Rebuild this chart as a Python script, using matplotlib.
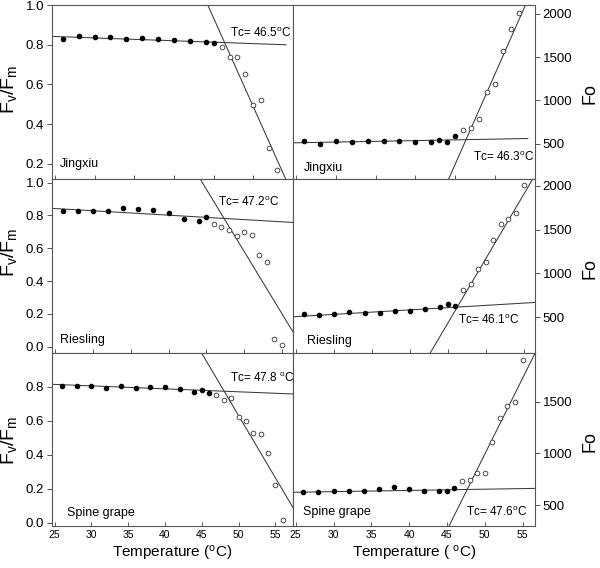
import numpy as np
import matplotlib
matplotlib.use("Agg")
import matplotlib.pyplot as plt

plt.rcParams['font.family'] = ['Liberation Sans', 'DejaVu Sans']
plt.rcParams['mathtext.fontset'] = 'custom'
plt.rcParams['mathtext.rm'] = 'Liberation Sans'
plt.rcParams['mathtext.it'] = 'Liberation Sans:italic'

# ---------------- data ----------------
cultivars = ["Jingxiu", "Riesling", "Spine grape"]

# Fv/Fm
jx_fv_T_fill = [26, 28, 30, 32, 34, 36, 38, 40, 42, 44, 45]
jx_fv_fill = [0.830, 0.842, 0.839, 0.839, 0.829, 0.832, 0.827, 0.825, 0.820, 0.812, 0.807]
jx_fv_T_open = [46, 47, 48, 49, 50, 51, 52, 53]
jx_fv_open = [0.791, 0.739, 0.736, 0.651, 0.495, 0.520, 0.278, 0.168]

rs_fv_T_fill = [26, 28, 30, 32, 34, 36, 38, 40, 42, 44, 45]
rs_fv_fill = [0.824, 0.829, 0.824, 0.827, 0.843, 0.837, 0.835, 0.814, 0.780, 0.767, 0.788]
rs_fv_T_open = [46, 47, 48, 49, 50, 51, 52, 53, 54, 55]
rs_fv_open = [0.745, 0.731, 0.712, 0.673, 0.698, 0.678, 0.561, 0.518, 0.045, 0.012]

sg_fv_T_fill = [26, 28, 30, 32, 34, 36, 38, 40, 42, 44, 45, 46]
sg_fv_fill = [0.806, 0.802, 0.806, 0.792, 0.802, 0.790, 0.798, 0.798, 0.788, 0.767, 0.782, 0.761]
sg_fv_T_open = [47, 48, 49, 50, 51, 52, 53, 54, 55, 56]
sg_fv_open = [0.749, 0.723, 0.733, 0.619, 0.598, 0.527, 0.519, 0.409, 0.224, 0.018]

# Fo
jx_fo_T_fill = [26, 28, 30, 32, 34, 36, 38, 40, 42, 43, 44, 45]
jx_fo_fill = [531, 500, 527, 519, 534, 531, 527, 519, 516, 546, 523, 589]
jx_fo_T_open = [46, 47, 48, 49, 50, 51, 52, 53]
jx_fo_open = [654, 681, 788, 1097, 1189, 1566, 1820, 2004]

rs_fo_T_fill = [26, 28, 30, 32, 34, 36, 38, 40, 42, 44, 45, 46]
rs_fo_fill = [534, 519, 538, 561, 542, 542, 565, 565, 588, 615, 645, 622]
rs_fo_T_open = [47, 48, 49, 50, 51, 52, 53, 54, 55]
rs_fo_open = [814, 879, 1055, 1135, 1380, 1568, 1621, 1694, 2008]

sg_fo_T_fill = [26, 28, 30, 32, 34, 36, 38, 40, 42, 44, 45, 46]
sg_fo_fill = [626, 629, 632, 635, 635, 655, 674, 652, 635, 632, 632, 665]
sg_fo_T_open = [47, 48, 49, 50, 51, 52, 53, 54, 55]
sg_fo_open = [735, 742, 810, 810, 1110, 1345, 1461, 1500, 1903]

# fitted regression lines: (slope, intercept)
fv_flat = [(-0.00143, 0.8772), (-0.0027, 0.9094), (-0.00174, 0.8569)]
fv_steep = [(-0.0892, 4.948), (-0.07599, 4.3792), (-0.07325, 4.2927)]
fo_flat = [(1.698, 469.1), (5.133, 378.0), (1.187, 593.8)]
fo_steep = [(208.3, -9107.0), (146.8, -6172.7), (146.97, -6357.8)]

fv_tc = ["46.5", "47.2", "47.8 "]
fo_tc = ["46.3", "46.1", "47.6"]

# ---------------- layout ----------------
fig = plt.figure(figsize=(6.0, 5.68), dpi=100)

W, H = 600.0, 568.0
cols = [(52, 293), (293, 535)]
rows = [(5, 178.5), (178.5, 352.7), (352.7, 526)]

fv_xlims = [(24.63, 54.1), (24.6, 56.45), (24.65, 57.4)]
fo_xlims = [(24.65, 54.1), (24.55, 56.5), (24.64, 56.65)]
fv_ylims = [(0.127, 1.0), (-0.037, 1.025), (-0.02, 1.0)]
fo_ylims = [(100, 2100), (94, 2084), (297, 1974)]
fv_yticks = [[0.2, 0.4, 0.6, 0.8, 1.0], [0.0, 0.2, 0.4, 0.6, 0.8, 1.0], [0.0, 0.2, 0.4, 0.6, 0.8]]
fo_yticks = [[500, 1000, 1500, 2000], [500, 1000, 1500, 2000], [500, 1000, 1500]]
xticks = [25, 30, 35, 40, 45, 50, 55]

fv_data = [
    (jx_fv_T_fill, jx_fv_fill, jx_fv_T_open, jx_fv_open),
    (rs_fv_T_fill, rs_fv_fill, rs_fv_T_open, rs_fv_open),
    (sg_fv_T_fill, sg_fv_fill, sg_fv_T_open, sg_fv_open),
]
fo_data = [
    (jx_fo_T_fill, jx_fo_fill, jx_fo_T_open, jx_fo_open),
    (rs_fo_T_fill, rs_fo_fill, rs_fo_T_open, rs_fo_open),
    (sg_fo_T_fill, sg_fo_fill, sg_fo_T_open, sg_fo_open),
]

fv_tc_pos = [(0.739, 0.838), (0.69, 0.865), (0.739, 0.852)]
fo_tc_pos = [(0.743, 0.123), (0.683, 0.185), (0.714, 0.079)]
fv_name_pos = [(0.033, 0.081), (0.033, 0.073), (0.061, 0.073)]
fo_name_pos = [(0.043, 0.06), (0.059, 0.069), (0.04, 0.083)]
fv_lab_y = [89, 252, 440]
fo_lab_y = [93, 268, 442]

line_c = '#3a3a3a'
spine_c = '#555555'


def make_ax(ci, ri):
    x0, x1 = cols[ci]
    y0, y1 = rows[ri]
    return fig.add_axes([x0 / W, 1 - y1 / H, (x1 - x0) / W, (y1 - y0) / H])


def style(ax, right):
    for s in ax.spines.values():
        s.set_color(spine_c)
        s.set_linewidth(0.8)
    ax.tick_params(axis='x', direction='in', length=3, width=0.7, color=spine_c,
                   labelsize=7.5, pad=3, top=False)
    if right:
        ax.yaxis.tick_right()
        ax.yaxis.set_label_position('right')
    ax.tick_params(axis='y', direction='out', length=3.5, width=0.7, color=spine_c,
                   labelsize=9.5, pad=2)


def draw(ax, data, flat, steep, xlim):
    tf, vf, to, vo = data
    xs = np.linspace(xlim[0], xlim[1], 50)
    ax.plot(xs, flat[0] * xs + flat[1], color=line_c, lw=0.75, zorder=2)
    ax.plot(xs, steep[0] * xs + steep[1], color=line_c, lw=0.75, zorder=2)
    ax.plot(tf, vf, 'o', ms=3.0, color='black', zorder=3)
    ax.plot(to, vo, 'o', ms=3.4, mfc='white', mec='#333333', mew=0.6, zorder=3)


deg = r'$^{\mathregular{o}}$'
for ri in range(3):
    # left: Fv/Fm
    ax = make_ax(0, ri)
    style(ax, False)
    draw(ax, fv_data[ri], fv_flat[ri], fv_steep[ri], fv_xlims[ri])
    ax.set_xlim(fv_xlims[ri])
    ax.set_ylim(fv_ylims[ri])
    ax.set_xticks(xticks)
    ax.set_yticks(fv_yticks[ri])
    ax.set_yticklabels([f"{v:.1f}" for v in fv_yticks[ri]])
    if ri < 2:
        ax.set_xticklabels([])
    else:
        ax.set_xticklabels([str(t) for t in xticks])
        ax.set_xlabel('Temperature (' + deg + 'C)', fontsize=11, labelpad=3)
    ax.set_ylabel(r'$\mathregular{F_v/F_m}$', fontsize=14)
    ax.yaxis.set_label_coords((19 - 52) / 241, 1 - (fv_lab_y[ri] - rows[ri][0]) / (rows[ri][1] - rows[ri][0]))
    ax.text(*fv_tc_pos[ri], 'Tc= ' + fv_tc[ri] + deg + 'C', transform=ax.transAxes,
            fontsize=8.5, ha='left', va='center')
    ax.text(*fv_name_pos[ri], cultivars[ri], transform=ax.transAxes,
            fontsize=9, ha='left', va='center')

    # right: Fo
    ax = make_ax(1, ri)
    style(ax, True)
    draw(ax, fo_data[ri], fo_flat[ri], fo_steep[ri], fo_xlims[ri])
    ax.set_xlim(fo_xlims[ri])
    ax.set_ylim(fo_ylims[ri])
    ax.set_xticks(xticks)
    ax.set_yticks(fo_yticks[ri])
    if ri < 2:
        ax.set_xticklabels([])
    else:
        ax.set_xticklabels([str(t) for t in xticks])
        ax.set_xlabel('Temperature ( ' + deg + 'C)', fontsize=11, labelpad=3)
    ax.set_ylabel('Fo', fontsize=13, rotation=90)
    ax.yaxis.set_label_coords((581 - 293) / 242, 1 - (fo_lab_y[ri] - rows[ri][0]) / (rows[ri][1] - rows[ri][0]))
    ax.text(*fo_tc_pos[ri], 'Tc= ' + fo_tc[ri] + deg + 'C', transform=ax.transAxes,
            fontsize=8.5, ha='left', va='center')
    ax.text(*fo_name_pos[ri], cultivars[ri], transform=ax.transAxes,
            fontsize=9, ha='left', va='center')

fig.savefig('out.png', dpi=100)
